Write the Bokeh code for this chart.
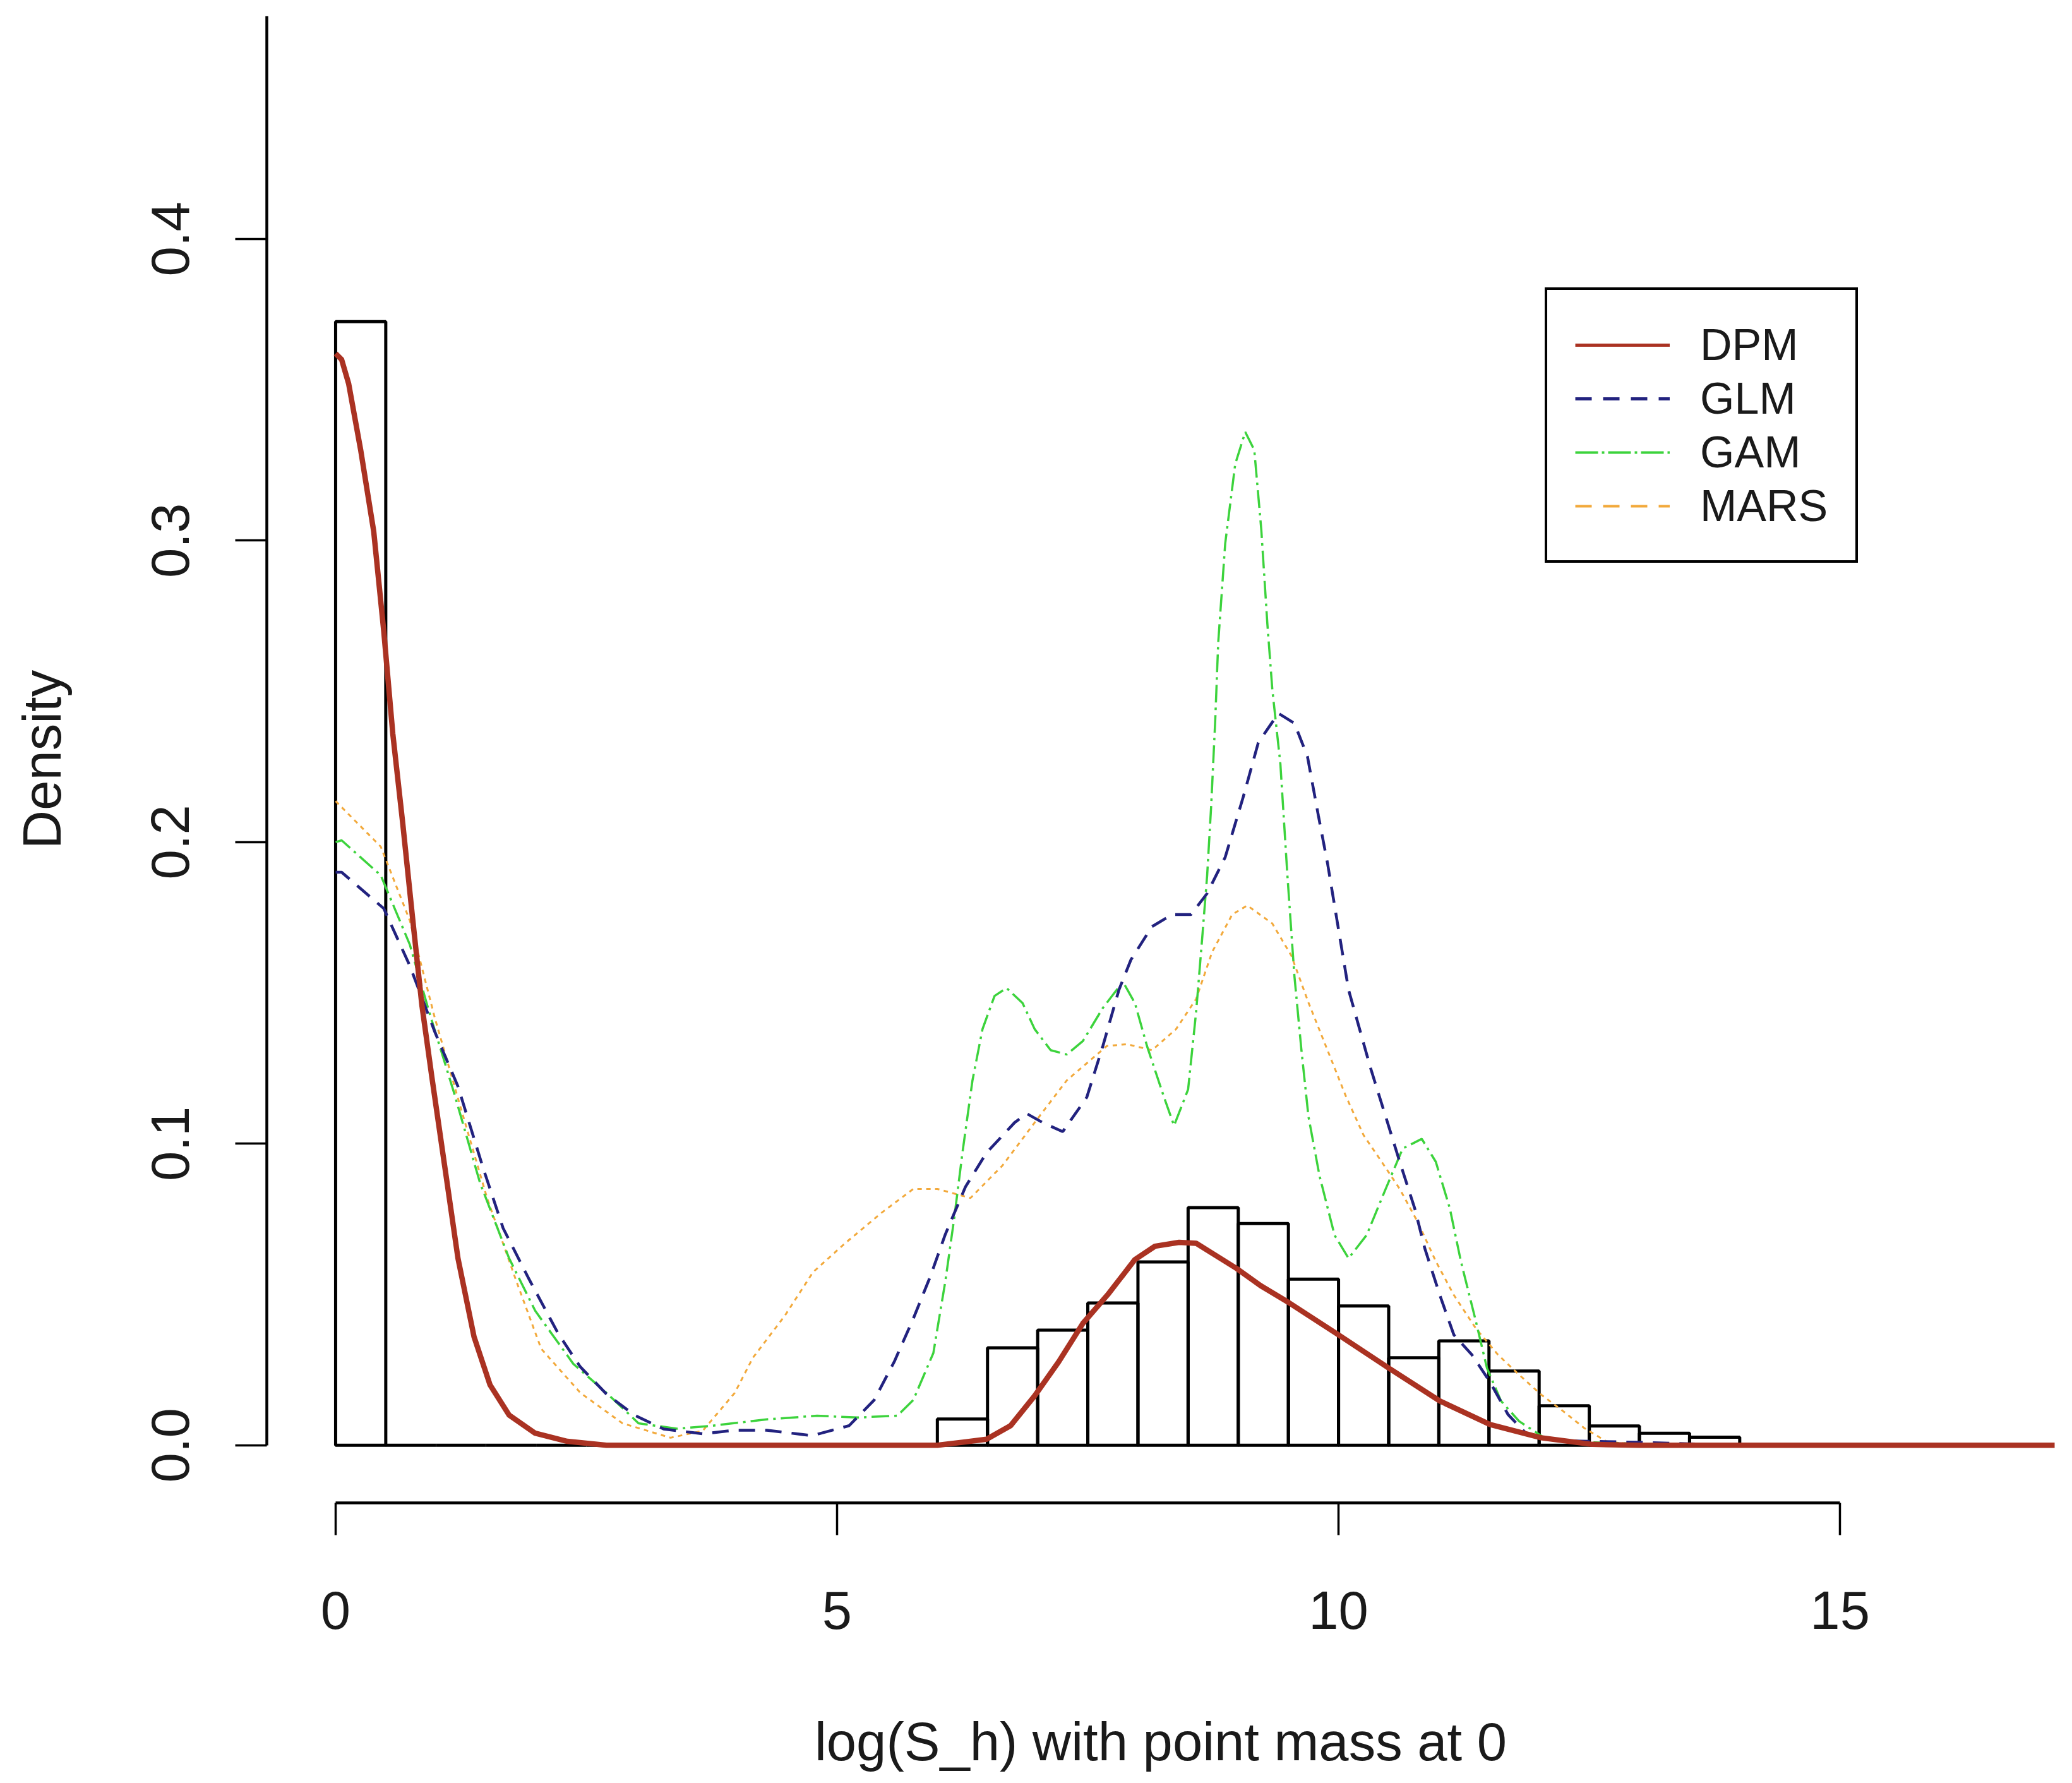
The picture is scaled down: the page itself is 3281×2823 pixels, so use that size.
from bokeh.plotting import figure
from bokeh.models import (Range1d, Legend, LegendItem, FixedTicker,
                          PrintfTickFormatter, ColumnDataSource)
from bokeh.embed import file_html
from bokeh.resources import INLINE

# histogram: bin edges (width 0.5) and densities
bin_left = [0.0, 0.5, 1.0, 1.5, 2.0, 2.5, 3.0, 3.5, 4.0, 4.5, 5.0, 5.5,
            6.0, 6.5, 7.0, 7.5, 8.0, 8.5, 9.0, 9.5, 10.0, 10.5, 11.0, 11.5,
            12.0, 12.5, 13.0, 13.5]
bin_right = [b + 0.5 for b in bin_left]
bin_density = [0.3726, 0, 0, 0, 0, 0, 0, 0, 0, 0, 0, 0,
               0.0087, 0.0323, 0.0382, 0.0472, 0.0608, 0.0788, 0.0735, 0.0551,
               0.0462, 0.0290, 0.0346, 0.0246, 0.0131, 0.0064, 0.0040, 0.0027]

dpm_x = [0.00, 0.06, 0.13, 0.25, 0.38, 0.48, 0.57, 0.67, 0.77, 0.86, 0.96,
         1.09, 1.22, 1.38, 1.54, 1.73, 1.99, 2.31, 2.70, 6.00, 6.49, 6.73,
         6.97, 7.21, 7.45, 7.70, 7.97, 8.17, 8.41, 8.58, 8.98, 9.22, 9.49,
         10.00, 10.50, 11.01, 11.51, 12.02, 12.53, 13.00, 18.00]
dpm_y = [0.362, 0.360, 0.352, 0.330, 0.303, 0.270, 0.236, 0.206, 0.174,
         0.146, 0.122, 0.092, 0.062, 0.036, 0.020, 0.010, 0.004, 0.0013, 0.0,
         0.0, 0.002, 0.0065, 0.0164, 0.0277, 0.0404, 0.050, 0.0616, 0.066,
         0.0673, 0.0670, 0.0587, 0.053, 0.0476, 0.0366, 0.0256, 0.0147,
         0.0069, 0.0025, 0.0003, 0.0, 0.0]

glm_x = [0.00, 0.06, 0.48, 0.74, 0.99, 1.22, 1.47, 1.67, 1.93, 2.22, 2.44,
         2.70, 2.98, 3.27, 3.66, 3.98, 4.30, 4.75, 5.12, 5.37, 5.57, 5.76,
         5.93, 6.08, 6.28, 6.49, 6.77, 6.89, 7.05, 7.25, 7.49, 7.65, 7.81,
         7.93, 8.14, 8.34, 8.53, 8.69, 8.87, 9.05, 9.20, 9.40, 9.56, 9.69,
         9.80, 9.89, 10.00, 10.10, 10.21, 10.32, 10.47, 10.61, 10.76, 10.86,
         11.01, 11.15, 11.33, 11.51, 11.69, 11.88, 12.20, 13.00, 14.00]
glm_y = [0.190, 0.190, 0.178, 0.159, 0.137, 0.119, 0.092, 0.072, 0.055,
         0.037, 0.026, 0.017, 0.010, 0.0054, 0.0038, 0.005, 0.005, 0.0032,
         0.0065, 0.015, 0.0277, 0.042, 0.056, 0.070, 0.0857, 0.097, 0.107,
         0.110, 0.107, 0.104, 0.1154, 0.1324, 0.151, 0.161, 0.172, 0.176,
         0.176, 0.183, 0.195, 0.215, 0.233, 0.2427, 0.2394, 0.2284, 0.2086,
         0.193, 0.171, 0.151, 0.138, 0.125, 0.109, 0.094, 0.0785, 0.0653,
         0.0498, 0.0366, 0.030, 0.021, 0.0102, 0.0036, 0.0015, 0.001, 0.0]

gam_x = [0.00, 0.06, 0.45, 0.74, 0.93, 1.18, 1.44, 1.73, 1.99, 2.37, 2.70,
         3.02, 3.40, 3.76, 4.30, 4.80, 5.20, 5.60, 5.76, 5.96, 6.08, 6.17,
         6.25, 6.35, 6.45, 6.57, 6.69, 6.85, 6.97, 7.13, 7.29, 7.45, 7.65,
         7.85, 7.97, 8.09, 8.26, 8.36, 8.50, 8.58, 8.64, 8.69, 8.73, 8.77,
         8.80, 8.87, 8.97, 9.07, 9.16, 9.23, 9.29, 9.34, 9.42, 9.49, 9.56,
         9.63, 9.70, 9.81, 9.96, 10.10, 10.28, 10.47, 10.64, 10.83, 10.97,
         11.11, 11.22, 11.37, 11.48, 11.62, 11.80, 12.05, 12.50, 13.50]
gam_y = [0.200, 0.2006, 0.189, 0.166, 0.144, 0.117, 0.087, 0.062, 0.0446,
         0.027, 0.0174, 0.0073, 0.0055, 0.0065, 0.0086, 0.0098, 0.0092,
         0.0098, 0.015, 0.0306, 0.0545, 0.0758, 0.097, 0.121, 0.138, 0.149,
         0.1516, 0.1466, 0.138, 0.131, 0.1296, 0.134, 0.145, 0.1537, 0.1466,
         0.1324, 0.1154, 0.106, 0.118, 0.1437, 0.168, 0.189, 0.212, 0.240,
         0.266, 0.299, 0.3254, 0.336, 0.330, 0.3035, 0.2725, 0.2505, 0.226,
         0.189, 0.1556, 0.131, 0.109, 0.0894, 0.0697, 0.062, 0.0697, 0.085,
         0.0984, 0.1016, 0.094, 0.0785, 0.061, 0.041, 0.0256, 0.0147, 0.008,
         0.0025, 0.001, 0.0]

mars_x = [0.00, 0.45, 0.74, 0.99, 1.25, 1.51, 1.80, 2.05, 2.44, 2.86, 3.34,
          3.66, 3.98, 4.16, 4.48, 4.76, 5.08, 5.44, 5.76, 6.00, 6.33, 6.65,
          6.97, 7.29, 7.69, 7.89, 8.14, 8.38, 8.58, 8.74, 8.94, 9.09, 9.34,
          9.53, 9.70, 9.89, 10.07, 10.25, 10.43, 10.61, 10.79, 10.97, 11.15,
          11.37, 11.59, 11.80, 12.02, 12.24, 12.45, 12.67, 13.00]
mars_y = [0.2136, 0.1985, 0.174, 0.1416, 0.1116, 0.082, 0.0546, 0.032,
          0.0174, 0.0073, 0.0025, 0.0048, 0.0174, 0.029, 0.043, 0.0574,
          0.067, 0.077, 0.085, 0.085, 0.082, 0.0928, 0.107, 0.121, 0.1324,
          0.133, 0.131, 0.138, 0.148, 0.1636, 0.176, 0.179, 0.173, 0.1623,
          0.1468, 0.131, 0.116, 0.1028, 0.094, 0.085, 0.074, 0.061, 0.0498,
          0.0387, 0.030, 0.0234, 0.0168, 0.0113, 0.0057, 0.0013, 0.0]

model_names = ["DPM", "GLM", "GAM", "MARS"]
y_ticks = [0.0, 0.1, 0.2, 0.3, 0.4]
x_ticks = [0, 5, 10, 15]

FONT = "Liberation Sans"
NAN = float("nan")
DPM_RED = "#AA3222"

p = figure(width=3265, height=2807, output_backend="svg", toolbar_location=None,
           x_range=Range1d(-0.686, 17.14), y_range=Range1d(-0.0191, 0.4739),
           min_border_left=422, min_border_right=12, min_border_top=25,
           min_border_bottom=428)
p.outline_line_color = None
p.xgrid.grid_line_color = None
p.ygrid.grid_line_color = None
p.background_fill_color = "white"
p.border_fill_color = "white"

# histogram
hist_src = ColumnDataSource(dict(left=bin_left, right=bin_right, top=bin_density))
p.quad(left="left", right="right", bottom=0, top="top", source=hist_src,
       fill_alpha=0, line_color="black", line_width=5)

# density curves
p.line(mars_x, mars_y, color="#F2A93B", line_width=3, line_dash="7 7")
p.line(gam_x, gam_y, color="#3CD33C", line_width=3.5, line_dash="28 8 4 8")
p.line(glm_x, glm_y, color="#22227F", line_width=4.5, line_dash="26 16")
p.line(dpm_x, dpm_y, color=DPM_RED, line_width=8.5, line_join="round")

# legend samples (styles as drawn in the key)
key_styles = [(DPM_RED, 5, "solid"), ("#22227F", 5, "26 18"),
              ("#3CD33C", 4, "36 6 4 6"), ("#F2A93B", 4, "26 18")]
items = []
for name, (col, lw, dash) in zip(model_names, key_styles):
    r = p.line([NAN], [NAN], color=col, line_width=lw, line_dash=dash)
    items.append(LegendItem(label=name, renderers=[r]))

legend = Legend(items=items, location=(2024, 1488), orientation="vertical",
                label_text_font=FONT, label_text_font_size="70px",
                label_text_color="#1a1a1a", glyph_width=150, glyph_height=40,
                label_height=85, label_width=196, label_standoff=48,
                spacing=0, padding=44, margin=0,
                border_line_color="black", border_line_alpha=1,
                border_line_width=4,
                background_fill_color="white", background_fill_alpha=1)
p.add_layout(legend, "center")

# axes in base-graphics style
for ax in (p.xaxis[0], p.yaxis[0]):
    ax.axis_line_color = "black"
    ax.axis_line_width = 4.5
    ax.major_tick_line_color = "black"
    ax.major_tick_line_width = 3.5
    ax.major_tick_in = 0
    ax.minor_tick_line_color = None
    ax.major_label_text_font = FONT
    ax.major_label_text_font_size = "85px"
    ax.major_label_text_color = "#1a1a1a"
    ax.axis_label_text_font = FONT
    ax.axis_label_text_font_size = "85px"
    ax.axis_label_text_font_style = "normal"
    ax.axis_label_text_color = "#1a1a1a"

p.xaxis.ticker = FixedTicker(ticks=x_ticks)
p.xaxis.bounds = (0, 15)
p.xaxis.major_tick_out = 51
p.xaxis.major_label_standoff = 89
p.xaxis.axis_label = "log(S_h) with point mass at 0"
p.xaxis.axis_label_standoff = 128

p.yaxis.ticker = FixedTicker(ticks=y_ticks)
p.yaxis.formatter = PrintfTickFormatter(format="%.1f")
p.yaxis.bounds = (0, 0.4739)
p.yaxis.major_tick_out = 50
p.yaxis.major_label_standoff = 73
p.yaxis.major_label_orientation = "vertical"
p.yaxis.axis_label = "Density"
p.yaxis.axis_label_standoff = 124

open("out.html", "w").write(file_html(p, INLINE))
